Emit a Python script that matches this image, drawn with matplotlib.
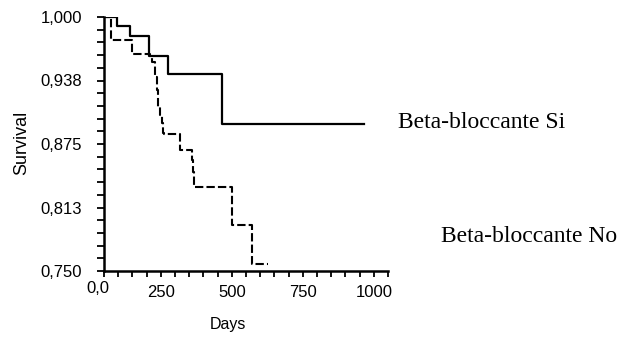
import matplotlib
matplotlib.use("Agg")
import matplotlib.pyplot as plt
from matplotlib.ticker import MultipleLocator, FixedLocator
import matplotlib.transforms as mtransforms

# Kaplan-Meier survival estimates (days, survival probability)
days_si = [0, 97, 140, 210, 275, 465, 965]
surv_si = [1.000, 0.991, 0.981, 0.962, 0.944, 0.895, 0.895]

days_no = [0, 75, 149, 212, 219, 230, 237, 240, 247, 254, 258, 261,
           318, 360, 363, 367, 501, 571, 627]
surv_no = [1.000, 0.977, 0.964, 0.960, 0.956, 0.941, 0.928, 0.911, 0.904,
           0.896, 0.886, 0.885, 0.869, 0.859, 0.847, 0.833, 0.795, 0.757, 0.757]

group_labels = ["Beta-bloccante Si", "Beta-bloccante No"]

y_ticks = [0.750, 0.8125, 0.875, 0.9375, 1.000]
y_tick_labels = ["0,750", "0,813", "0,875", "0,938", "1,000"]
x_ticks = [250, 500, 750, 1000]
x_tick_labels = ["250", "500", "750", "1000"]

sans = "Liberation Sans"
serif = "Liberation Serif"
tick_fs = 12

fig = plt.figure(figsize=(6.28, 3.45), dpi=100)
ax = fig.add_axes([104 / 628, 1 - 271 / 345, (388 - 104) / 628, (271 - 17) / 345])

ax.step(days_si, surv_si, where="post", color="black", lw=1.6)
ax.step(days_no, surv_no, where="post", color="black", lw=1.5,
        linestyle=(0, (4, 1.5)))

ax.set_xlim(50, 1050)
ax.set_ylim(0.75, 1.0)

for side in ("top", "right"):
    ax.spines[side].set_visible(False)
for side in ("left", "bottom"):
    ax.spines[side].set_linewidth(1.8)
    ax.spines[side].set_color("black")

ax.yaxis.set_major_locator(FixedLocator(y_ticks))
ax.set_yticklabels(y_tick_labels, fontfamily=sans, fontsize=tick_fs)
ax.yaxis.set_minor_locator(MultipleLocator(0.0125))
ax.xaxis.set_major_locator(FixedLocator(x_ticks))
ax.set_xticklabels(x_tick_labels, fontfamily=sans, fontsize=tick_fs)
ax.xaxis.set_minor_locator(MultipleLocator(50))

ax.tick_params(axis="y", which="both", direction="out", length=5, width=1.3,
               pad=11, colors="black")
ax.tick_params(axis="x", which="both", direction="out", length=4, width=1.3,
               pad=6, colors="black")

# origin label sits just left of the axis corner
offset = mtransforms.offset_copy(ax.get_xaxis_transform(), fig=fig, x=-6, y=-10,
                                 units="dots")
ax.text(50, 0, "0,0", transform=offset, ha="center", va="top",
        fontfamily=sans, fontsize=tick_fs)

fig.text(22 / 628, 1 - 143 / 345, "Survival", rotation=90, ha="center",
         va="center", fontfamily=sans, fontsize=13)
fig.text(228 / 628, 1 - 325 / 345, "Days", ha="center", va="center",
         fontfamily=sans, fontsize=11.5)

fig.text(398 / 628, 1 - 122 / 345, group_labels[0], ha="left", va="center",
         fontfamily=serif, fontsize=17)
fig.text(441 / 628, 1 - 237 / 345, group_labels[1], ha="left", va="center",
         fontfamily=serif, fontsize=17)

fig.savefig("out.png", dpi=100)
